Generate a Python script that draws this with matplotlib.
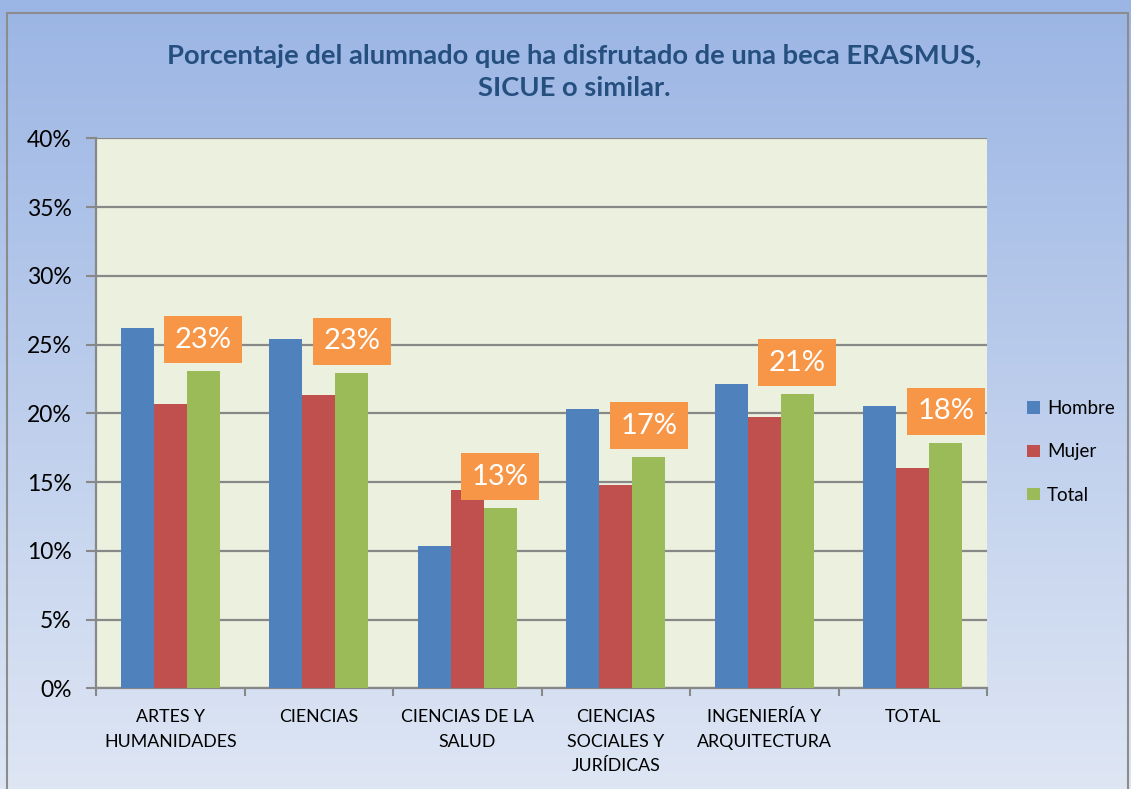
import matplotlib
matplotlib.use("Agg")
import matplotlib.pyplot as plt
import numpy as np
from matplotlib.colors import LinearSegmentedColormap
from matplotlib.patches import Rectangle, Patch

# ---------------------------------------------------------------------------
# Datos (en %)
# ---------------------------------------------------------------------------
CATEGORIES = [
    "ARTES Y\nHUMANIDADES",
    "CIENCIAS",
    "CIENCIAS DE LA\nSALUD",
    "CIENCIAS\nSOCIALES Y\nJURÍDICAS",
    "INGENIERÍA Y\nARQUITECTURA",
    "TOTAL",
]
HOMBRE = [26.2, 25.4, 10.35, 20.3, 22.15, 20.55]
MUJER = [20.7, 21.3, 14.45, 14.75, 19.75, 16.0]
TOTAL = [23.05, 22.95, 13.1, 16.8, 21.4, 17.85]
SERIES_NAMES = ["Hombre", "Mujer", "Total"]

TITLE = "Porcentaje del alumnado que ha disfrutado de una beca ERASMUS,\nSICUE o similar."

COLORS = ["#4F81BD", "#C0504D", "#9BBB59"]
LABEL_BOX = "#F79646"
PLOT_BG = "#EBF1DE"
GRID = "#888888"

plt.rcParams["font.family"] = ["Lato", "DejaVu Sans"]

fig = plt.figure(figsize=(11.31, 7.89), dpi=100)

# fondo degradado
bg = fig.add_axes([0, 0, 1, 1], zorder=-10)
grad_cmap = LinearSegmentedColormap.from_list("bg", ["#9BB5E4", "#DEE6F4"])
bg.imshow(np.linspace(0, 1, 256).reshape(-1, 1), aspect="auto", cmap=grad_cmap,
          extent=[0, 1, 0, 1], origin="upper")
bg.set_axis_off()
fig.patches.append(Rectangle((7 / 1131, -0.01), 1121 / 1131, 1 - 13 / 789 + 0.01,
                             transform=fig.transFigure, fill=False,
                             edgecolor="#8C8C8C", linewidth=1.5))

ax = fig.add_axes([96 / 1131, 1 - 688.3 / 789, 891 / 1131, 550 / 789])
ax.set_facecolor(PLOT_BG)

x = np.arange(len(CATEGORIES))
width = 1 / 4.5
for i, (vals, color, name) in enumerate(zip([HOMBRE, MUJER, TOTAL], COLORS, SERIES_NAMES)):
    ax.bar(x + (i - 1) * width, vals, width=width, color=color, label=name, zorder=3)

# etiquetas de la serie Total
for xi, v in zip(x + width, TOTAL):
    ax.annotate(f"{v:.0f}%", xy=(xi, v), xytext=(0, 13.3), textcoords="offset points",
                ha="center", va="bottom", fontsize=21, color="white", zorder=4,
                bbox=dict(boxstyle="square,pad=0.36", facecolor=LABEL_BOX, edgecolor="none"))

ax.set_xlim(-0.5, len(CATEGORIES) - 0.5)
ax.set_ylim(0, 40)
ax.set_yticks(range(0, 41, 5))
ax.set_yticklabels([f"{t}%" for t in range(0, 41, 5)], fontsize=16.5)
ax.yaxis.grid(True, color=GRID, linewidth=1.6, zorder=0)
ax.set_axisbelow(True)

ax.set_xticks(x)
ax.set_xticklabels(CATEGORIES, fontsize=12.8, linespacing=1.65, va="top")
ax.set_xticks(np.arange(-0.5, len(CATEGORIES), 1), minor=True)
ax.tick_params(axis="x", which="major", length=0, pad=15)
ax.tick_params(axis="x", which="minor", length=6, width=1.5, color=GRID, direction="out")
ax.tick_params(axis="y", length=7, width=1.5, color=GRID, direction="out", pad=10.5)

for side in ["top", "right"]:
    ax.spines[side].set_visible(False)
for side in ["left", "bottom"]:
    ax.spines[side].set_color(GRID)
    ax.spines[side].set_linewidth(1.6)

handles = [Patch(facecolor=c, edgecolor="none") for c in COLORS]
fig.legend(handles, SERIES_NAMES, loc="center left", bbox_to_anchor=(1018 / 1131, 1 - 452 / 789),
           frameon=False, fontsize=13.5, handlelength=0.65, handleheight=0.65,
           handletextpad=0.4, labelspacing=1.4, borderpad=0)

fig.text(0.508, 1 - 72 / 789, TITLE, ha="center", va="center", fontsize=19.7,
         fontweight="bold", color="#254F7E", linespacing=1.4)

fig.savefig("out.png", dpi=100)
